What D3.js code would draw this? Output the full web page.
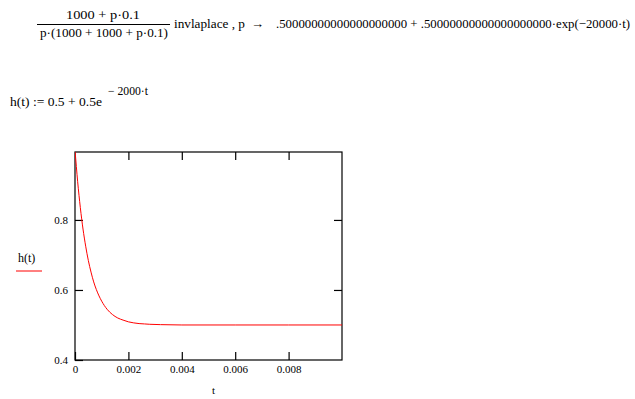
<!DOCTYPE html>
<html>
<head>
<meta charset="utf-8">
<script src="https://cdn.jsdelivr.net/npm/d3@7"></script>
<style>
body { margin: 0; background: white; }
text { font-family: "Liberation Serif", "Times New Roman", serif; fill: black; }
</style>
</head>
<body>
<script type="text/javascript">
var w = 635;
var h = 399;

// h(t) values
var tValues = [0, 0.0001, 0.0002, 0.0003, 0.0004, 0.0005, 0.0006, 0.0007, 0.0008, 0.0009, 0.001,
  0.0012, 0.0014, 0.0016, 0.0018, 0.002, 0.0022, 0.0024, 0.0026, 0.0028, 0.0032, 0.004, 0.006, 0.008, 0.01];
var hValues = [1.0, 0.909, 0.835, 0.774, 0.725, 0.684, 0.651, 0.623, 0.601, 0.583, 0.568,
  0.545, 0.530, 0.520, 0.514, 0.509, 0.506, 0.504, 0.503, 0.502, 0.501, 0.500, 0.500, 0.500, 0.500];
var xTicks = [0, 0.002, 0.004, 0.006, 0.008];
var yTicks = [0.4, 0.6, 0.8];

var Xscale = d3.scaleLinear().domain([0, 0.01]).range([75, 342]);
var Yscale = d3.scaleLinear().domain([0.4, 0.994]).range([360, 152]);

const svg = d3.select("body").append("svg").attr('width', w).attr('height', h).style('background-color', 'white');

//FORMULA LINE 1
var f1 = svg.append('g').style('font-size', '13px');
f1.append('text').attr('x', 66).attr('y', 19).attr('textLength', 74).attr('lengthAdjust', 'spacingAndGlyphs').text('1000 + p\u00b70.1');
f1.append('line').attr('x1', 37).attr('x2', 170).attr('y1', 24.5).attr('y2', 24.5).attr('stroke', 'black');
f1.append('text').attr('x', 40).attr('y', 37).attr('textLength', 128).attr('lengthAdjust', 'spacingAndGlyphs').text('p\u00b7(1000 + 1000 + p\u00b70.1)');
f1.append('text').attr('x', 174).attr('y', 28).attr('textLength', 71).attr('lengthAdjust', 'spacingAndGlyphs').text('invlaplace , p');
f1.append('text').attr('x', 251).attr('y', 28).text('\u2192');
f1.append('text').attr('x', 276).attr('y', 28).attr('textLength', 354).attr('lengthAdjust', 'spacingAndGlyphs')
  .text('.50000000000000000000 + .50000000000000000000\u00b7exp(\u221220000\u00b7t)');

//FORMULA LINE 2
var f2 = svg.append('g');
f2.append('text').attr('x', 10).attr('y', 106).style('font-size', '13px').attr('textLength', 92).attr('lengthAdjust', 'spacingAndGlyphs').text('h(t) := 0.5 + 0.5e');
f2.append('text').attr('x', 108).attr('y', 95).style('font-size', '12px').attr('textLength', 40).attr('lengthAdjust', 'spacingAndGlyphs').text('\u2212 2000\u00b7t');

//PLOT
var plot = svg.append('g');

var fmt = function (d) { return d === 0 ? '0' : String(d); };

var xAxis = plot.append('g').attr('transform', 'translate(0,360)')
  .call(d3.axisBottom(Xscale).tickValues(xTicks).tickSizeInner(-8).tickSizeOuter(0).tickPadding(5).tickFormat(fmt));
var xTop = plot.append('g').attr('transform', 'translate(0,152)')
  .call(d3.axisTop(Xscale).tickValues(xTicks.slice(1)).tickSizeInner(-8).tickSizeOuter(0).tickFormat(''));
var yAxis = plot.append('g').attr('transform', 'translate(75,0)')
  .call(d3.axisLeft(Yscale).tickValues(yTicks).tickSizeInner(-8).tickSizeOuter(0).tickPadding(7).tickFormat(fmt));
var yRight = plot.append('g').attr('transform', 'translate(342,0)')
  .call(d3.axisRight(Yscale).tickValues(yTicks.slice(1)).tickSizeInner(-8).tickSizeOuter(0).tickFormat(''));

plot.selectAll('.domain').remove();
plot.selectAll('.tick line').attr('stroke', 'black').attr('stroke-width', 1.2);
plot.selectAll('.tick text').style('font-family', '"Liberation Serif", serif').style('font-size', '11px').attr('fill', '#222');

plot.append('rect').attr('x', 75).attr('y', 152).attr('width', 267).attr('height', 208)
  .attr('fill', 'none').attr('stroke', 'black').attr('stroke-width', 1.2);

plot.append('clipPath').attr('id', 'clip').append('rect').attr('x', 75).attr('y', 152).attr('width', 267).attr('height', 208);

var line = d3.line().x(function (d, i) { return Xscale(tValues[i]); }).y(function (d) { return Yscale(d); }).curve(d3.curveMonotoneX);
plot.append('path').datum(hValues).attr('d', line).attr('fill', 'none').attr('stroke', 'red').attr('stroke-width', 1).attr('clip-path', 'url(#clip)');

//AXIS LABELS
plot.append('text').attr('x', 18).attr('y', 262).style('font-size', '12px').text('h(t)');
plot.append('line').attr('x1', 16).attr('x2', 42).attr('y1', 271).attr('y2', 271).attr('stroke', 'red');
plot.append('text').attr('x', 212).attr('y', 394).style('font-size', '11px').text('t');
</script>
</body>
</html>
